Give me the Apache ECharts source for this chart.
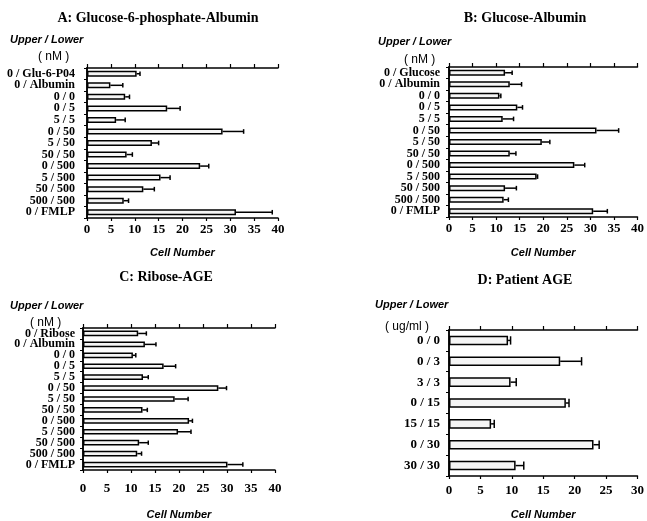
<!DOCTYPE html>
<html><head><meta charset="utf-8">
<script src="https://cdn.jsdelivr.net/npm/echarts@6/dist/echarts.min.js"></script>
<style>html,body{margin:0;padding:0;background:#fff;overflow:hidden}#c{width:647px;height:521px}</style>
</head><body><div id="c"></div>
<script>
const catsA = ['0 / Glu-6-P04','0 / Albumin','0 / 0','0 / 5','5 / 5','0 / 50','5 / 50','50 / 50','0 / 500','5 / 500','50 / 500','500 / 500','0 / FMLP'];
const valsA = [10.4, 4.9, 8.0, 16.8, 6.1, 28.4, 13.6, 8.3, 23.7, 15.4, 11.8, 7.7, 31.2];
const errA  = [11.1, 7.5, 8.9, 19.5, 8.0, 32.8, 15.0, 9.5, 25.5, 17.4, 14.1, 8.7, 38.8];

const catsB = ['0 / Glucose','0 / Albumin','0 / 0','0 / 5','5 / 5','0 / 50','5 / 50','50 / 50','0 / 500','5 / 500','50 / 500','500 / 500','0 / FMLP'];
const valsB = [11.9, 12.9, 10.7, 14.5, 11.4, 31.3, 19.7, 12.9, 26.6, 18.6, 11.9, 11.6, 30.6];
const errB  = [13.4, 15.4, 11.0, 15.6, 13.7, 36.0, 21.4, 14.2, 28.8, 18.8, 14.3, 12.6, 33.6];

const catsC = ['0 / Ribose','0 / Albumin','0 / 0','0 / 5','5 / 5','0 / 50','5 / 50','50 / 50','0 / 500','5 / 500','50 / 500','500 / 500','0 / FMLP'];
const valsC = [11.5, 12.9, 10.4, 16.8, 12.5, 28.2, 19.1, 12.4, 22.1, 19.8, 11.7, 11.3, 30.1];
const errC  = [13.2, 15.2, 11.0, 19.3, 13.6, 29.9, 21.9, 13.4, 22.8, 22.5, 13.6, 12.2, 33.3];

const catsD = ['0 / 0','0 / 3','3 / 3','0 / 15','15 / 15','0 / 30','30 / 30'];
const valsD = [9.4, 17.7, 9.8, 18.6, 6.7, 23.0, 10.6];
const errD  = [9.8, 21.1, 10.7, 19.1, 7.2, 23.9, 11.9];

const titles = ['A: Glucose-6-phosphate-Albumin','B: Glucose-Albumin','C: Ribose-AGE','D: Patient AGE'];
const units = ['( nM )','( nM )','( nM )','( ug/ml )'];
const xMax = [40, 40, 40, 30];
const xTicks = 5;

const panels = [
  {cats: catsA, vals: valsA, err: errA, grid: {left: 87, top: 68, width: 191, height: 150}, lblGap: 5, nameGap: 29, catFont: 12, catGap: 12, barW: '52%',
   title: [158, 18], upper: [10, 40], unit: [38, 57]},
  {cats: catsB, vals: valsB, err: errB, grid: {left: 449, top: 67, width: 193, height: 150}, lblGap: 5, nameGap: 30, catFont: 12, catGap: 9, barW: '52%',
   title: [525, 18], upper: [378, 42], unit: [404, 60]},
  {cats: catsC, vals: valsC, err: errC, grid: {left: 83, top: 328, width: 192, height: 150}, lblGap: 12, nameGap: 39, catFont: 12, catGap: 8, barW: '52%',
   title: [166, 277], upper: [10, 306], unit: [30, 323]},
  {cats: catsD, vals: valsD, err: errD, grid: {left: 449, top: 330, width: 194, height: 152}, lblGap: 8, nameGap: 33, catFont: 13, catGap: 9, barW: '46%',
   title: [525, 280], upper: [375, 305], unit: [385, 327]}
];

const serif = '"Liberation Serif", "DejaVu Serif", serif';
const sans = '"Liberation Sans", Arial, sans-serif';

const grid = [], xAxis = [], yAxis = [], series = [], graphic = [];
panels.forEach((p, i) => {
  grid.push(Object.assign({containLabel: false}, p.grid));
  xAxis.push({
    gridIndex: i, type: 'value', min: 0, max: xMax[i], interval: xTicks, position: 'bottom',
    splitLine: {show: false},
    axisLine: {show: true, lineStyle: {color: '#000', width: 1.5}},
    axisTick: {show: true, length: 3, lineStyle: {color: '#000', width: 1.2}},
    axisLabel: {color: '#000', fontFamily: serif, fontWeight: 'bold', fontSize: 13, margin: p.lblGap, showMaxLabel: true},
    name: 'Cell Number', nameLocation: 'middle', nameGap: p.nameGap,
    nameTextStyle: {color: '#000', fontFamily: sans, fontStyle: 'italic', fontWeight: 'bold', fontSize: 11}
  });
  xAxis.push({
    gridIndex: i, type: 'value', min: 0, max: xMax[i], interval: xTicks, position: 'top',
    splitLine: {show: false},
    axisLine: {show: true, lineStyle: {color: '#000', width: 1.5}},
    axisTick: {show: true, length: 4, lineStyle: {color: '#000', width: 1.2}},
    axisLabel: {show: false}
  });
  yAxis.push({
    gridIndex: i, type: 'category', data: p.cats, inverse: true, position: 'left',
    axisLine: {show: true, lineStyle: {color: '#000', width: 1.5}},
    axisTick: {show: true, length: 3, lineStyle: {color: '#000', width: 1}},
    axisLabel: {color: '#000', fontFamily: serif, fontWeight: 'bold', fontSize: p.catFont, margin: p.catGap, interval: 0}
  });
  yAxis.push({
    gridIndex: i, type: 'category', data: p.cats, inverse: true, position: 'right',
    axisLine: {show: true, lineStyle: {color: '#000', width: 1.5}},
    axisTick: {show: false}, axisLabel: {show: false}
  });
  series.push({
    type: 'bar', xAxisIndex: i * 2, yAxisIndex: i * 2, data: p.vals, barWidth: p.barW,
    itemStyle: {color: '#f5f5f5', borderColor: '#000', borderWidth: 1.5},
    silent: true, animation: false
  });
  series.push({
    type: 'custom', xAxisIndex: i * 2, yAxisIndex: i * 2,
    data: p.vals.map((v, k) => [v, p.err[k], k]),
    encode: {x: [0, 1], y: 2},
    renderItem: function (params, api) {
      const a = api.coord([api.value(0), api.value(2)]);
      const b = api.coord([api.value(1), api.value(2)]);
      const h = api.size([0, 1])[1] * 0.2;
      return {type: 'group', children: [
        {type: 'line', shape: {x1: a[0], y1: a[1], x2: b[0], y2: b[1]}, style: {stroke: '#000', lineWidth: 1.5}},
        {type: 'line', shape: {x1: b[0], y1: b[1] - h, x2: b[0], y2: b[1] + h}, style: {stroke: '#000', lineWidth: 1.5}}
      ]};
    },
    z: 3, silent: true, animation: false
  });
  graphic.push({type: 'text', x: p.title[0], y: p.title[1], style: {text: titles[i], fill: '#000', font: 'bold 14px ' + serif, textAlign: 'center', textVerticalAlign: 'middle'}});
  graphic.push({type: 'text', x: p.upper[0], y: p.upper[1], style: {text: 'Upper / Lower', fill: '#000', font: 'italic bold 11px ' + sans, textAlign: 'left', textVerticalAlign: 'middle'}});
  graphic.push({type: 'text', x: p.unit[0], y: p.unit[1], style: {text: units[i], fill: '#000', font: '12px ' + sans, textAlign: 'left', textVerticalAlign: 'middle'}});
});

const chart = echarts.init(document.getElementById('c'));
chart.setOption({animation: false, grid, xAxis, yAxis, series, graphic});
</script>
</body></html>
